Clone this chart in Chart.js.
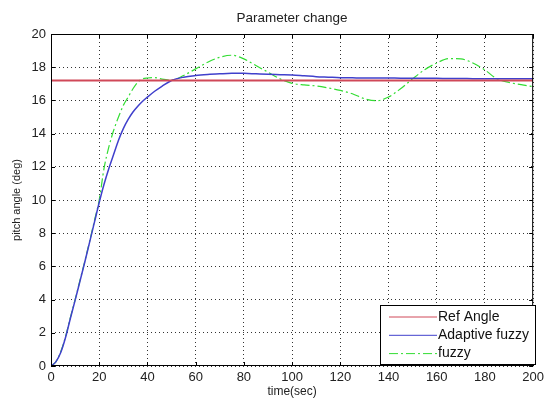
<!DOCTYPE html>
<html lang="en">
<head>
    <meta charset="UTF-8">
    <title>Parameter change</title>
    <script src="https://cdn.jsdelivr.net/npm/chart.js"></script>
    <style>
        html, body {
            margin: 0;
            padding: 0;
            background: #fff;
        }
        #wrap {
            width: 548px;
            height: 401px;
        }
    </style>
</head>
<body>
    <div id="wrap"><canvas id="chart1"></canvas></div>
    <script>
        const titleText = 'Parameter change';
        const xLabel = 'time(sec)';
        const yLabel = 'pitch angle (deg)';
        const seriesNames = ['Ref Angle', 'Adaptive fuzzy', 'fuzzy'];

        const times = [0, 2, 4, 6, 8, 10, 12, 14, 16, 18, 20, 22, 24, 26, 28, 30, 32, 34, 36, 38, 40,
            43, 46, 50, 55, 60, 65, 70, 75, 80, 85, 90, 95, 100, 105, 110, 115, 120, 125, 130,
            135, 140, 145, 150, 155, 160, 165, 170, 175, 180, 185, 190, 195, 200];

        const refAngle = times.map(function () { return 17.2; });

        const adaptiveFuzzy = [0, 0.25, 0.8, 1.7, 2.85, 3.95, 5.1, 6.25, 7.45, 8.65, 9.85, 10.95, 11.9, 12.75, 13.6,
            14.3, 14.85, 15.3, 15.65, 15.95, 16.2, 16.55, 16.85, 17.2, 17.4, 17.5, 17.56, 17.6, 17.63, 17.63,
            17.6, 17.57, 17.55, 17.53, 17.48, 17.43, 17.4, 17.37, 17.36, 17.35, 17.35, 17.35, 17.34, 17.34,
            17.33, 17.33, 17.32, 17.32, 17.31, 17.31, 17.3, 17.3, 17.3, 17.3];

        const fuzzy = [0, 0.25, 0.85, 1.75, 2.9, 4.0, 5.15, 6.3, 7.5, 8.75, 10.0, 11.9, 13.2, 14.2, 15.0,
            15.7, 16.2, 16.7, 17.1, 17.3, 17.35, 17.37, 17.28, 17.22, 17.5, 17.9, 18.3, 18.6, 18.72, 18.5,
            18.1, 17.7, 17.3, 17.03, 16.93, 16.87, 16.75, 16.6, 16.4, 16.1, 15.98, 16.2, 16.7, 17.3,
            17.85, 18.25, 18.52, 18.5, 18.25, 17.83, 17.3, 17.08, 16.95, 16.83];

        function points(values) {
            return times.map(function (t, i) {
                return { x: t, y: values[i] };
            });
        }

        const frame = {
            id: 'frame',
            afterDraw: function (chart) {
                const ctx = chart.ctx;
                const a = chart.chartArea;
                ctx.save();
                ctx.strokeStyle = '#000';
                ctx.lineWidth = 1;
                ctx.setLineDash([]);
                ctx.strokeRect(a.left + 0.5, a.top + 0.5, a.right - a.left - 1, a.bottom - a.top - 1);

                // inward ticks on all four sides
                ctx.beginPath();
                chart.scales.x.ticks.forEach(function (tk) {
                    const px = Math.round(chart.scales.x.getPixelForValue(tk.value)) + 0.5;
                    ctx.moveTo(px, a.bottom);
                    ctx.lineTo(px, a.bottom - 4);
                    ctx.moveTo(px, a.top);
                    ctx.lineTo(px, a.top + 4);
                });
                chart.scales.y.ticks.forEach(function (tk) {
                    const py = Math.round(chart.scales.y.getPixelForValue(tk.value)) + 0.5;
                    ctx.moveTo(a.left, py);
                    ctx.lineTo(a.left + 4, py);
                    ctx.moveTo(a.right, py);
                    ctx.lineTo(a.right - 4, py);
                });
                ctx.stroke();

                // title
                ctx.fillStyle = '#222';
                ctx.font = '13.5px "Liberation Sans", Arial, sans-serif';
                ctx.textAlign = 'center';
                ctx.textBaseline = 'middle';
                ctx.fillText(titleText, (a.left + a.right) / 2, 18);

                // legend box
                const bx = 380, by = 305, bw = 156, bh = 60;
                ctx.fillStyle = '#fff';
                ctx.fillRect(bx, by, bw, bh);
                ctx.strokeRect(bx + 0.5, by + 0.5, bw - 1, bh - 1);
                ctx.font = '14px "Liberation Sans", Arial, sans-serif';
                ctx.textAlign = 'left';
                chart.data.datasets.forEach(function (ds, i) {
                    const ry = 317 + i * 18.3;
                    ctx.strokeStyle = ds.borderColor;
                    ctx.lineWidth = 1;
                    ctx.setLineDash(ds.borderDash || []);
                    ctx.beginPath();
                    ctx.moveTo(389, ry);
                    ctx.lineTo(437, ry);
                    ctx.stroke();
                    ctx.setLineDash([]);
                    ctx.fillStyle = '#111';
                    ctx.fillText(ds.label, 438, ry);
                });
                ctx.restore();
            }
        };

        const config = {
            type: 'line',
            data: {
                datasets: [{
                    label: seriesNames[0],
                    data: points(refAngle),
                    borderColor: '#d04858',
                    borderWidth: 2,
                    pointRadius: 0
                }, {
                    label: seriesNames[1],
                    data: points(adaptiveFuzzy),
                    borderColor: '#4040cc',
                    borderWidth: 1.5,
                    pointRadius: 0,
                    cubicInterpolationMode: 'monotone'
                }, {
                    label: seriesNames[2],
                    data: points(fuzzy),
                    borderColor: '#33dd33',
                    borderWidth: 1.2,
                    borderDash: [9, 3, 2, 3],
                    pointRadius: 0,
                    cubicInterpolationMode: 'monotone'
                }]
            },
            options: {
                responsive: true,
                maintainAspectRatio: false,
                animation: false,
                layout: {
                    padding: { top: 34, right: 12, left: 0, bottom: 0 }
                },
                plugins: {
                    legend: { display: false },
                    title: { display: false },
                    tooltip: { enabled: false }
                },
                scales: {
                    x: {
                        type: 'linear',
                        min: 0,
                        max: 200,
                        afterFit: function (s) { s.height = 35; },
                        ticks: {
                            stepSize: 20,
                            color: '#222',
                            padding: 4,
                            font: { size: 13, family: '"Liberation Sans", Arial, sans-serif' }
                        },
                        grid: { color: '#333', drawTicks: false },
                        border: { display: false, dash: [1, 3] },
                        title: {
                            display: true,
                            text: xLabel,
                            color: '#222',
                            padding: { top: 2, bottom: 2 },
                            font: { size: 12, family: '"Liberation Sans", Arial, sans-serif' }
                        }
                    },
                    y: {
                        min: 0,
                        max: 20,
                        afterFit: function (s) { s.width = 51; },
                        ticks: {
                            stepSize: 2,
                            color: '#222',
                            padding: 5,
                            font: { size: 13, family: '"Liberation Sans", Arial, sans-serif' }
                        },
                        grid: { color: '#333', drawTicks: false },
                        border: { display: false, dash: [1, 3] },
                        title: {
                            display: true,
                            text: yLabel,
                            color: '#222',
                            padding: { top: 10, bottom: 2 },
                            font: { size: 11, family: '"Liberation Sans", Arial, sans-serif' }
                        }
                    }
                }
            },
            plugins: [frame]
        };

        new Chart(document.getElementById('chart1'), config);
    </script>
</body>
</html>
